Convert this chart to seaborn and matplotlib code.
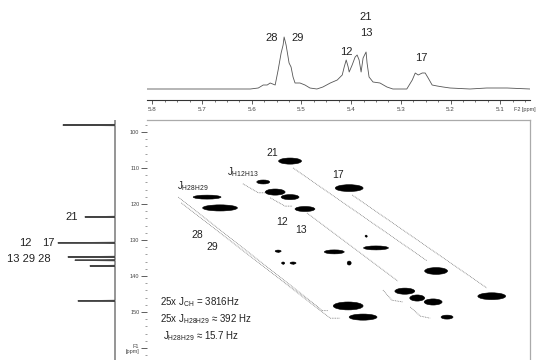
import numpy as np
import pandas as pd
import matplotlib
matplotlib.use("Agg")
import matplotlib.pyplot as plt
from matplotlib.patches import Ellipse
import seaborn as sns

# ---------------- data ----------------
# 1H spectrum (F2 ppm, intensity)
h_ppm = [5.811, 5.704, 5.624, 5.603, 5.587, 5.577, 5.569, 5.563, 5.553, 5.547,
         5.541, 5.537, 5.535, 5.531, 5.527, 5.525, 5.521, 5.517, 5.513, 5.503,
         5.493, 5.483, 5.469, 5.457, 5.442, 5.428, 5.418, 5.414, 5.410, 5.406,
         5.404, 5.398, 5.392, 5.388, 5.384, 5.380, 5.376, 5.370, 5.368, 5.364,
         5.356, 5.342, 5.328, 5.316, 5.288, 5.277, 5.271, 5.265, 5.257, 5.251,
         5.245, 5.237, 5.227, 5.215, 5.201, 5.161, 5.127, 5.086, 5.040]
h_int = [0, 0, 0, 0, 1, 4, 4, 6, 4, 19,
         36, 44, 52, 44, 32, 26, 22, 12, 6, 6,
         4, 1, 0, 2, 6, 9, 14, 22, 29, 22,
         17, 24, 32, 34, 29, 17, 31, 37, 26, 12,
         7, 6, 2, 0, 0, 9, 16, 14, 16, 16,
         11, 4, 3, 2, 1, 0, 1, 1, 0]
h_labels = ["28", "29", "12", "21", "13", "17"]
h_label_ppm = [5.559, 5.507, 5.410, 5.370, 5.370, 5.259]
h_label_int = [51, 51, 37, 72, 56, 31]

# 13C spectrum (F1 ppm, intensity)
c_ppm = [96.7, 97.95, 98.1, 98.25, 123.45, 123.6, 123.75, 130.65, 130.8, 130.95,
         134.55, 134.7, 134.85, 135.45, 135.6, 135.75, 137.05, 137.2, 137.35,
         146.75, 146.9, 147.05, 163.3]
c_int = [0, 0, 52, 0, 0, 30, 0, 0, 57, 0,
         0, 47, 0, 0, 40, 0, 0, 25, 0,
         0, 37, 0, 0]
c_labels = ["21", "12", "17", "13 29 28"]
c_label_int = [43, 90, 67, 86]
c_label_ppm = [123.6, 130.8, 130.8, 135.3]

# 2D cross peaks
pk_f2 = [5.523, 5.404, 5.577, 5.553, 5.523, 5.493, 5.690, 5.664, 5.547, 5.537,
         5.517, 5.434, 5.404, 5.370, 5.350, 5.229, 5.292, 5.267, 5.235, 5.207,
         5.117, 5.406, 5.376]
pk_f1 = [108.1, 115.6, 113.9, 116.7, 118.1, 121.4, 118.1, 121.1, 133.1, 136.4,
         136.4, 133.3, 136.4, 128.9, 132.2, 138.6, 144.2, 146.1, 147.2, 151.4,
         145.6, 148.3, 151.4]
pk_w = [0.046, 0.056, 0.026, 0.040, 0.036, 0.040, 0.056, 0.070, 0.012, 0.006,
        0.012, 0.040, 0.008, 0.004, 0.050, 0.046, 0.040, 0.030, 0.036, 0.024,
        0.056, 0.060, 0.056]
pk_h = [1.7, 1.9, 1.1, 1.7, 1.4, 1.4, 1.1, 1.7, 0.6, 0.6,
        0.6, 1.1, 1.1, 0.5, 1.1, 1.9, 1.7, 1.7, 1.7, 1.1,
        1.9, 2.2, 1.7]

# connecting lines (F2, F1)
lines_f2 = [[5.517, 5.247], [5.398, 5.127], [5.489, 5.306],
            [5.748, 5.471, 5.459, 5.447], [5.742, 5.442, 5.422],
            [5.618, 5.587, 5.573], [5.563, 5.533, 5.519],
            [5.336, 5.318, 5.296], [5.281, 5.261, 5.241]]
lines_f1 = [[110.0, 135.8], [117.5, 143.3], [122.5, 141.4],
            [118.1, 148.1, 149.6, 149.6], [119.7, 151.7, 151.7],
            [114.4, 116.9, 116.9], [118.3, 120.6, 120.6],
            [143.9, 146.7, 147.2], [148.6, 151.1, 151.7]]

peak_labels = ["21", "17", "12", "13", "28", "29"]
peak_label_f2 = [5.559, 5.426, 5.539, 5.501, 5.710, 5.680]
peak_label_f1 = [105.8, 111.9, 125.0, 127.2, 128.6, 131.9]

f1_ticks = [100, 110, 120, 130, 140, 150, 160]
f1_ticklabels = ["100", "110", "120", "130", "140", "150", "F1\n[ppm]"]
f2_ticks = [5.8, 5.7, 5.6, 5.5, 5.4, 5.3, 5.2, 5.1]

# ---------------- style ----------------
sns.set_theme(style="white")
plt.rcParams["font.family"] = ["Liberation Sans", "DejaVu Sans"]
plt.rcParams["mathtext.fontset"] = "custom"
plt.rcParams["mathtext.rm"] = "Liberation Sans"
plt.rcParams["mathtext.it"] = "Liberation Sans"

fig = plt.figure(figsize=(5.5, 3.6), dpi=100)
W, H = 550.0, 360.0
X0, X1 = 147, 530
ax_top = fig.add_axes([X0 / W, 1 - 100 / H, (X1 - X0) / W, 100 / H])
ax_2d = fig.add_axes([X0 / W, 0, (X1 - X0) / W, 240 / H])
ax_left = fig.add_axes([0, 0, 120 / W, 240 / H])
XL = (5.811, 5.040)
YL = (163.3, 96.7)

# ---- top 1H spectrum ----
dft = pd.DataFrame({"ppm": h_ppm, "int": h_int})
sns.lineplot(data=dft, x="ppm", y="int", ax=ax_top, sort=False, estimator=None,
             color="#555555", lw=0.6)
ax_top.set_xlim(*XL)
ax_top.set_ylim(-11, 89)
for s in ["top", "left", "right"]:
    ax_top.spines[s].set_visible(False)
ax_top.spines["bottom"].set_color("#333333")
ax_top.spines["bottom"].set_linewidth(0.8)
ax_top.set_yticks([])
ax_top.set_xticks(f2_ticks)
ax_top.set_xticklabels([f"{t:.1f}" for t in f2_ticks])
ax_top.set_xticks(np.arange(5.05, 5.81, 0.025), minor=True)
ax_top.tick_params(axis="x", which="major", direction="out", length=3, width=0.6,
                   labelsize=4.5, pad=2, colors="#444444", bottom=True)
ax_top.tick_params(axis="x", which="minor", direction="out", length=1.5, width=0.5,
                   colors="#444444", bottom=True)
ax_top.set_xlabel("")
ax_top.set_ylabel("")
ax_top.text(0.987, -0.10, "F2 [ppm]", transform=ax_top.transAxes, fontsize=4,
            ha="center", va="center", color="#444444")
for t, xp, yp in zip(h_labels, h_label_ppm, h_label_int):
    ax_top.text(xp, yp, t, fontsize=8, ha="center", va="center", color="#222222")

# ---- 2D ----
ax_2d.set_xlim(*XL)
ax_2d.set_ylim(*YL)
for f2s, f1s in zip(lines_f2, lines_f1):
    ax_2d.plot(f2s, f1s, color="#777777", lw=0.6, ls=(0, (1.0, 1.0)))
sns.scatterplot(x=pk_f2, y=pk_f1, ax=ax_2d, s=2, color="black", linewidth=0)
for x, y, w, h in zip(pk_f2, pk_f1, pk_w, pk_h):
    ax_2d.add_patch(Ellipse((x, y), w, h, facecolor="black", edgecolor="black", lw=0.4))
for t, xp, yp in zip(peak_labels, peak_label_f2, peak_label_f1):
    ax_2d.text(xp, yp, t, fontsize=7.5, ha="center", va="center", color="#222222")
ax_2d.text(5.618, 111.1, r"J$_{\rm H12H13}$", fontsize=7, ha="center", va="center",
           color="#222222")
ax_2d.text(5.718, 115.0, r"J$_{\rm H28H29}$", fontsize=7, ha="center", va="center",
           color="#222222")
ax_2d.text(5.784, 147.2, r"25x J$_{\rm CH}$ = 3816Hz", fontsize=7, ha="left",
           va="center", color="#222222")
ax_2d.text(5.784, 151.9, r"25x J$_{\rm H28H29}$ ≈ 392 Hz", fontsize=7, ha="left",
           va="center", color="#222222")
ax_2d.text(5.778, 156.7, r"J$_{\rm H28H29}$ ≈ 15.7 Hz", fontsize=7, ha="left",
           va="center", color="#222222")
ax_2d.spines["left"].set_visible(False)
ax_2d.spines["bottom"].set_visible(False)
for s in ["top", "right"]:
    ax_2d.spines[s].set_color("#aaaaaa")
    ax_2d.spines[s].set_linewidth(0.9)
ax_2d.set_xticks([])
ax_2d.set_yticks(f1_ticks)
ax_2d.set_yticklabels(f1_ticklabels)
ax_2d.set_yticks(np.arange(98, 163, 2), minor=True)
ax_2d.tick_params(axis="y", which="major", direction="out", length=4, width=0.6,
                  labelsize=4, pad=1.5, colors="#444444", left=True)
ax_2d.tick_params(axis="y", which="minor", direction="out", length=1.2, width=0.5,
                  colors="#777777", left=True)
ax_2d.set_xlabel("")
ax_2d.set_ylabel("")

# ---- left 13C spectrum ----
dfc = pd.DataFrame({"ppm": c_ppm, "int": c_int})
sns.lineplot(data=dfc, x="int", y="ppm", ax=ax_left, sort=False, estimator=None,
             orient="y", color="#444444", lw=0.8)
ax_left.set_xlim(115, -5)
ax_left.set_ylim(*YL)
for s in ax_left.spines.values():
    s.set_visible(False)
ax_left.set_xticks([])
ax_left.set_yticks([])
ax_left.set_xlabel("")
ax_left.set_ylabel("")
for t, xp, yp in zip(c_labels, c_label_int, c_label_ppm):
    ax_left.text(xp, yp, t, fontsize=8, ha="center", va="center", color="#222222")

fig.savefig("out.png", dpi=100)
